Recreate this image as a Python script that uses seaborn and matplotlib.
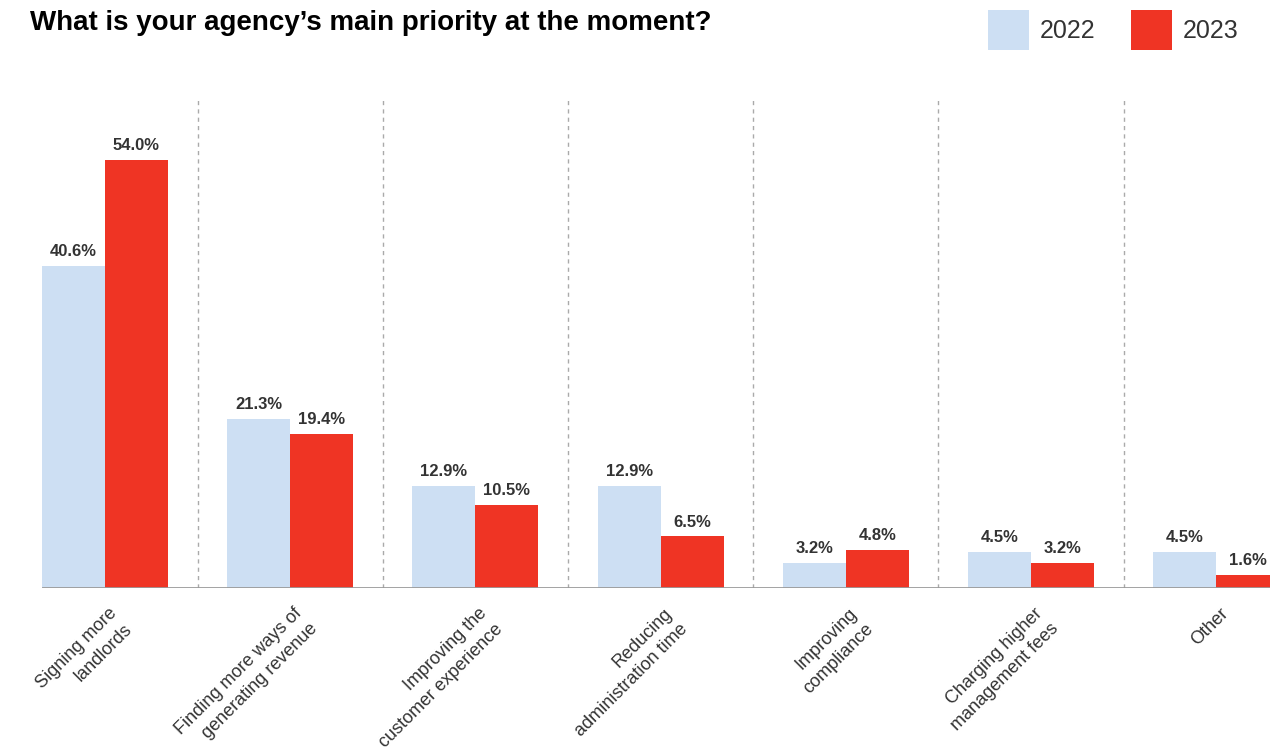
import matplotlib
matplotlib.use("Agg")
import matplotlib.pyplot as plt
import matplotlib.transforms as mtransforms
import seaborn as sns
import pandas as pd
from matplotlib.patches import Patch

categories = [
    "Signing more\nlandlords",
    "Finding more ways of\ngenerating revenue",
    "Improving the\ncustomer experience",
    "Reducing\nadministration time",
    "Improving\ncompliance",
    "Charging higher\nmanagement fees",
    "Other",
]
years = ["2022", "2023"]
values_2022 = [40.6, 21.3, 12.9, 12.9, 3.2, 4.5, 4.5]
values_2023 = [54.0, 19.4, 10.5, 6.5, 4.8, 3.2, 1.6]
colors = {"2022": "#cddff3", "2023": "#ef3424"}

df = pd.DataFrame({
    "category": categories * 2,
    "year": ["2022"] * len(categories) + ["2023"] * len(categories),
    "value": values_2022 + values_2023,
})

sns.set_theme(style="white")
plt.rcParams["font.family"] = ["Liberation Sans", "DejaVu Sans"]

fig = plt.figure(figsize=(12.81, 7.52), dpi=100)
ax = fig.add_axes([42 / 1281, 164 / 752, (1270 - 42) / 1281, (588 - 98) / 752])

sns.barplot(data=df, x="category", y="value", hue="year", hue_order=years,
            order=categories, palette=colors, width=0.68, gap=0,
            saturation=1, ax=ax, legend=False, errorbar=None, linewidth=0)

for cont in ax.containers:
    ax.bar_label(cont, fmt="%.1f%%", padding=5, fontsize=12,
                 fontweight="bold", color="#333333")

ax.set_xlim(-0.34, 6.29)
ax.set_ylim(0, 61.8)
for i in range(len(categories) - 1):
    ax.axvline(i + 0.5, color="#aaaaaa", lw=1, ls=(0, (3, 3)), zorder=0)
ax.axhline(0, color="#9a9a9a", lw=2, zorder=1)

for s in ax.spines.values():
    s.set_visible(False)
ax.set_yticks([])
ax.set_xlabel("")
ax.set_ylabel("")
ax.tick_params(axis="x", length=0, pad=12)
ax.set_xticks(range(len(categories)))
ax.set_xticklabels(categories, rotation=45, ha="right", va="top",
                   rotation_mode="anchor", multialignment="right",
                   fontsize=13, color="#333333", linespacing=1.4)
# nudge the rotated labels slightly right of the group centre
nudge = mtransforms.ScaledTranslation(0.03, 0, fig.dpi_scale_trans)
for lab in ax.get_xticklabels():
    lab.set_transform(lab.get_transform() + nudge)

fig.text(30 / 1281, 1 - 23 / 752, "What is your agency’s main priority at the moment?",
         fontsize=20, fontweight="bold", color="black", va="center", ha="left")

handles = [Patch(facecolor=colors[y], edgecolor="none", label=y) for y in years]
leg = fig.legend(handles=handles, loc="upper left", ncol=2, frameon=False,
                 bbox_to_anchor=(988 / 1281, 1 - 10 / 752), borderpad=0,
                 borderaxespad=0, fontsize=18, handlelength=1.64,
                 handleheight=2.1, handletextpad=0.44, columnspacing=1.4)
for t in leg.get_texts():
    t.set_color("#333333")

fig.savefig("out.png", dpi=100)
